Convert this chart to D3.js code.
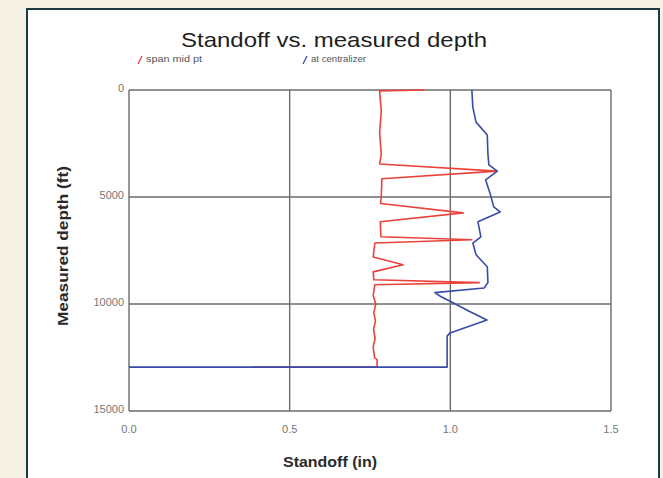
<!DOCTYPE html>
<html>
<head>
<meta charset="utf-8">
<script src="https://cdn.jsdelivr.net/npm/d3@7"></script>
<style>
  body { margin: 0; background: #f4f0e4; }
  svg { display: block; }
</style>
</head>
<body>
<div id="chart"></div>
<script>
const width = 663;
const height = 478;

// Series: [standoff (in), measured depth (ft)]
const spanMidPt = [
  [0.92, 0], [0.78, 40], [0.785, 1000], [0.78, 2000], [0.785, 3000], [0.78, 3460],
  [1.145, 3790], [0.787, 4150], [0.785, 5000], [0.783, 5300],
  [1.04, 5740], [0.782, 6160], [0.784, 6860],
  [1.067, 7000], [0.765, 7150], [0.76, 7800],
  [0.853, 8170], [0.76, 8500], [0.762, 8870],
  [1.09, 9000], [0.765, 9100], [0.76, 9600], [0.768, 10000], [0.762, 10400],
  [0.767, 10800], [0.761, 11200], [0.766, 11600], [0.76, 12000], [0.764, 12500],
  [0.772, 12600], [0.772, 12950], [0.385, 12950]
];

const atCentralizer = [
  [1.067, 0], [1.07, 800], [1.08, 1500], [1.115, 2100], [1.117, 3000], [1.12, 3500],
  [1.146, 3790], [1.11, 4200], [1.125, 4900], [1.135, 5460], [1.155, 5700],
  [1.086, 6160], [1.095, 6860], [1.07, 7150], [1.08, 7700], [1.115, 8260],
  [1.117, 9000], [1.105, 9250], [0.952, 9470], [0.97, 9650], [1.01, 9950],
  [1.06, 10350], [1.114, 10750], [0.999, 11350], [0.99, 11500],
  [0.99, 12950], [0.0, 12950]
];

const xTicks = [0, 0.5, 1.0, 1.5];
const yTicks = [0, 5000, 10000, 15000];

const margin = { top: 90, right: 52, bottom: 67, left: 129 };
const font = "Liberation Sans, Arial, sans-serif";

const svg = d3.select("#chart")
  .append("svg")
  .attr("width", width)
  .attr("height", height);

// white panel with dark border
svg.append("rect")
  .attr("x", 27).attr("y", 9)
  .attr("width", 632).attr("height", height)
  .attr("fill", "#fff")
  .attr("stroke", "#1c3b40")
  .attr("stroke-width", 2);

const x = d3.scaleLinear()
  .domain([0, 1.5])
  .range([margin.left, width - margin.right]);

const y = d3.scaleLinear()
  .domain([0, 15000])
  .range([margin.top, height - margin.bottom]);

// grid
const grid = svg.append("g")
  .attr("stroke", "#6b6b6b")
  .attr("stroke-width", 1.4);

grid.selectAll(".vx")
  .data(xTicks)
  .join("line")
  .attr("x1", d => x(d)).attr("x2", d => x(d))
  .attr("y1", y(0)).attr("y2", y(15000));

grid.selectAll(".hy")
  .data(yTicks)
  .join("line")
  .attr("x1", x(0)).attr("x2", x(1.5))
  .attr("y1", d => y(d)).attr("y2", d => y(d));

// tick labels
svg.append("g")
  .attr("font-family", font)
  .attr("font-size", 11)
  .attr("fill", "#777")
  .attr("text-anchor", "middle")
  .selectAll("text")
  .data(xTicks)
  .join("text")
  .attr("x", d => x(d))
  .attr("y", y(15000) + 22)
  .text(d => d.toFixed(1));

svg.append("g")
  .attr("font-family", font)
  .attr("font-size", 11)
  .attr("fill", "#777")
  .attr("text-anchor", "end")
  .selectAll("text")
  .data(yTicks)
  .join("text")
  .attr("x", x(0) - 5)
  .attr("y", d => y(d) + 2)
  .text(d => d);

// lines
const line = d3.line()
  .x(d => x(d[0]))
  .y(d => y(d[1]));

svg.append("path")
  .datum(spanMidPt)
  .attr("fill", "none")
  .attr("stroke", "#e8433a")
  .attr("stroke-width", 1.6)
  .attr("stroke-linejoin", "round")
  .attr("d", line);

svg.append("path")
  .datum(atCentralizer)
  .attr("fill", "none")
  .attr("stroke", "#3a4aa8")
  .attr("stroke-width", 1.6)
  .attr("stroke-linejoin", "round")
  .attr("d", line);

// title
svg.append("text")
  .attr("x", 334)
  .attr("y", 47)
  .attr("text-anchor", "middle")
  .attr("font-family", font)
  .attr("font-size", 21)
  .attr("textLength", 306)
  .attr("lengthAdjust", "spacingAndGlyphs")
  .attr("fill", "#1e1e1e")
  .text("Standoff vs. measured depth");

// legend
const legend = [
  { name: "span mid pt", color: "#e8433a", x: 138, w: 56 },
  { name: "at centralizer", color: "#3a4aa8", x: 303, w: 55 }
];
const lg = svg.append("g")
  .selectAll("g")
  .data(legend)
  .join("g")
  .attr("transform", d => `translate(${d.x},63)`);
lg.append("line")
  .attr("x1", 0).attr("y1", 1).attr("x2", 4).attr("y2", -7)
  .attr("stroke", d => d.color)
  .attr("stroke-width", 1.3);
lg.append("text")
  .attr("x", 8)
  .attr("y", -1)
  .attr("font-family", font)
  .attr("font-size", 9)
  .attr("textLength", d => d.w)
  .attr("lengthAdjust", "spacingAndGlyphs")
  .attr("fill", "#555")
  .text(d => d.name);

// axis titles
svg.append("text")
  .attr("x", 330)
  .attr("y", 467)
  .attr("text-anchor", "middle")
  .attr("font-family", font)
  .attr("font-size", 15)
  .attr("font-weight", "bold")
  .attr("textLength", 94)
  .attr("lengthAdjust", "spacingAndGlyphs")
  .attr("fill", "#2a2a2a")
  .text("Standoff (in)");

svg.append("text")
  .attr("transform", "translate(68,246) rotate(-90)")
  .attr("text-anchor", "middle")
  .attr("font-family", font)
  .attr("font-size", 15)
  .attr("font-weight", "bold")
  .attr("textLength", 160)
  .attr("lengthAdjust", "spacingAndGlyphs")
  .attr("fill", "#2a2a2a")
  .text("Measured depth (ft)");
</script>
</body>
</html>
